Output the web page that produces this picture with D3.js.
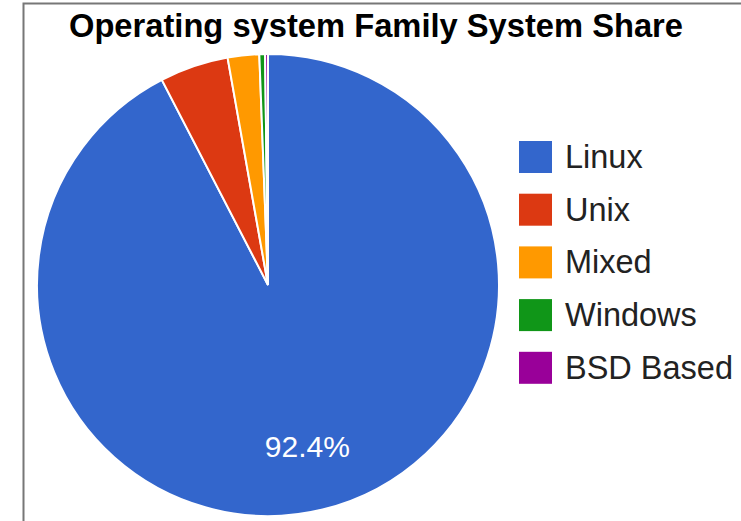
<!DOCTYPE html>
<html>
<head>
<meta charset="utf-8">
<script src="https://cdn.jsdelivr.net/npm/d3@7"></script>
<style>
  body { margin: 0; background: #fff; }
  svg { display: block; }
</style>
</head>
<body>
<svg width="741" height="521"></svg>
<script>
var categories = ["Linux", "Unix", "Mixed", "Windows", "BSD Based"];
var shares = [92.4, 4.8, 2.2, 0.4, 0.2];
var colors = ["#3366cc", "#dc3912", "#ff9900", "#109618", "#990099"];

var svg = d3.select('svg');
var font = "Arial, 'Liberation Sans', sans-serif";

// frame
svg.append("path")
    .attr("d", "M23.5,521 L23.5,3.5 L741,3.5")
    .attr("fill", "none")
    .attr("stroke", "#777")
    .attr("stroke-width", 2);

svg.append("text")
    .attr("x", 376)
    .attr("y", 37)
    .attr("text-anchor", "middle")
    .style("font-family", font)
    .style("font-weight", "bold")
    .style("font-size", "32.7px")
    .attr("fill", "#000")
    .text("Operating system Family System Share");

var cx = 268, cy = 285, r = 231;

var data = categories.map(function(c, i) {
    return { name: c, value: shares[i], color: colors[i] };
});

var pie = d3.pie()
    .sort(null)
    .value(function(d) { return d.value; });

var arc = d3.arc().innerRadius(0).outerRadius(r);
var labelArc = d3.arc().innerRadius(r * 0.72).outerRadius(r * 0.72);

var g = svg.append('g').attr("transform", "translate(" + cx + "," + cy + ")");

var arcs = pie(data);

g.selectAll("path")
    .data(arcs)
    .enter()
    .append("path")
    .attr("d", arc)
    .attr("fill", function(d) { return d.data.color; })
    .attr("stroke", "#fff")
    .attr("stroke-width", 2);

g.selectAll("text")
    .data(arcs.filter(function(d) { return d.data.value > 10; }))
    .enter()
    .append("text")
    .attr("transform", function(d) { return "translate(" + labelArc.centroid(d) + ")"; })
    .attr("dy", "0.36em")
    .attr("text-anchor", "middle")
    .style("font-family", font)
    .style("font-size", "30px")
    .attr("fill", "#fff")
    .text(function(d) { return d.data.value.toFixed(1) + "%"; });

// legend
var legend = svg.append("g").attr("transform", "translate(519,141)");
var rows = legend.selectAll("g")
    .data(data)
    .enter()
    .append("g")
    .attr("transform", function(d, i) { return "translate(0," + (i * 52.7) + ")"; });

rows.append("rect")
    .attr("width", 33)
    .attr("height", 32)
    .attr("fill", function(d) { return d.color; });

rows.append("text")
    .attr("x", 46)
    .attr("y", 27)
    .style("font-family", font)
    .style("font-size", "32.5px")
    .attr("fill", "#222")
    .text(function(d) { return d.name; });
</script>
</body>
</html>
